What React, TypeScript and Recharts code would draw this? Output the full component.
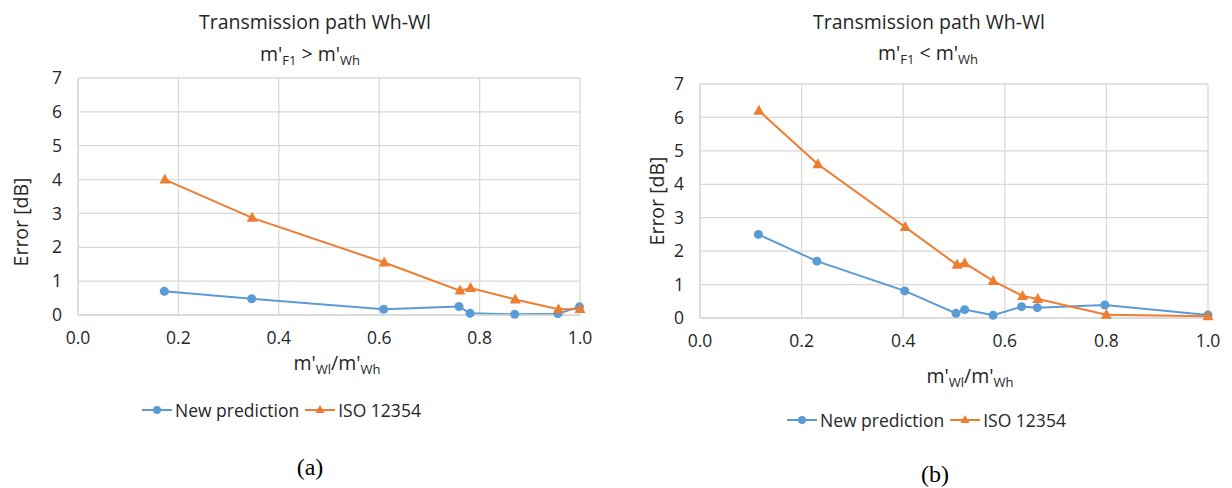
import React from "react";
import { CartesianGrid, Legend, Line, LineChart, XAxis, YAxis } from "recharts";

// panel (a): m'F1 > m'Wh
const A_NEW_X = [0.172, 0.346, 0.609, 0.759, 0.781, 0.87, 0.956, 0.999];
const A_NEW_Y = [0.7, 0.48, 0.17, 0.25, 0.05, 0.02, 0.04, 0.24];
const A_ISO_X = [0.173, 0.347, 0.61, 0.761, 0.782, 0.871, 0.957, 1.0];
const A_ISO_Y = [4.0, 2.87, 1.55, 0.72, 0.8, 0.46, 0.17, 0.18];

// panel (b): m'F1 < m'Wh
const B_NEW_X = [0.115, 0.23, 0.403, 0.504, 0.521, 0.577, 0.633, 0.664, 0.797, 1.0];
const B_NEW_Y = [2.5, 1.7, 0.81, 0.14, 0.25, 0.08, 0.34, 0.31, 0.39, 0.09];
const B_ISO_X = [0.116, 0.232, 0.404, 0.506, 0.521, 0.577, 0.635, 0.665, 0.8, 1.0];
const B_ISO_Y = [6.2, 4.6, 2.72, 1.59, 1.64, 1.11, 0.66, 0.57, 0.1, 0.05];

const SERIES = ["New prediction", "ISO 12354"];
const X_TICKS = [0, 0.2, 0.4, 0.6, 0.8, 1.0];
const Y_TICKS = [0, 1, 2, 3, 4, 5, 6, 7];

const BLUE = "#5B9BD5";
const ORANGE = "#ED7D31";
const GRID = "#D9D9D9";
const TEXT = "#262626";
const FONT = "'Open Sans', 'Noto Sans', sans-serif";

const toPoints = (xs: number[], ys: number[]) => xs.map((x, i) => ({ x, y: ys[i] }));

const Triangle = (props: any) => {
  const { cx, cy, index } = props;
  if (cx == null || cy == null) return <g key={index} />;
  return (
    <path
      key={index}
      d={`M${cx},${cy - 6} L${cx + 5.5},${cy + 4} L${cx - 5.5},${cy + 4} Z`}
      fill={ORANGE}
    />
  );
};

const LegendContent = ({ payload }: any) => {
  const items = [...(payload || [])].sort((a: any, b: any) => SERIES.indexOf(a.value) - SERIES.indexOf(b.value));
  return (
    <div style={{ display: "flex", alignItems: "center", height: 24, fontFamily: FONT, fontSize: 17.5, color: TEXT }}>
      {items.map((p: any) => (
        <span key={p.value} style={{ display: "flex", alignItems: "center", marginRight: 6 }}>
          <svg width={30} height={14} style={{ marginRight: 3 }}>
            <line x1={0} y1={7} x2={30} y2={7} stroke={p.color} strokeWidth={2} />
            {p.value === SERIES[0] ? (
              <circle cx={15} cy={7} r={4} fill={p.color} />
            ) : (
              <path d="M15,2 L19.5,10 L10.5,10 Z" fill={p.color} />
            )}
          </svg>
          {p.value}
        </span>
      ))}
    </div>
  );
};

const Sub = ({ children }: any) => (
  <tspan fontSize={13} dy={4}>
    {children}
  </tspan>
);

type PanelProps = {
  left: number;
  newData: { x: number; y: number }[];
  isoData: { x: number; y: number }[];
  yAxisWidth: number;
  margin: { top: number; right: number; bottom: number; left: number };
  legendTop: number;
  legendLeft: number;
  xLabel: { x: number; y: number };
  yLabel: { x: number; y: number };
};

const Panel = ({ left, newData, isoData, yAxisWidth, margin, legendTop, legendLeft, xLabel, yLabel }: PanelProps) => (
  <div style={{ position: "absolute", left, top: 0 }}>
    <LineChart width={616} height={488} margin={margin}>
      <CartesianGrid stroke={GRID} strokeWidth={1.3} />
      <XAxis
        type="number"
        dataKey="x"
        domain={[0, 1]}
        ticks={X_TICKS}
        tickFormatter={(v: number) => v.toFixed(1)}
        axisLine={{ stroke: GRID, strokeWidth: 1.3 }}
        tickLine={false}
        tickSize={0}
        tickMargin={17}
        height={60}
        tick={{ fill: TEXT, fontSize: 17.5, fontFamily: FONT }}
        label={{
          content: () => (
            <text x={xLabel.x} y={xLabel.y} textAnchor="middle" fill={TEXT} fontSize={19.5} fontFamily={FONT}>
              m'<Sub>Wl</Sub>
              <tspan dy={-4}>/m'</tspan>
              <Sub>Wh</Sub>
            </text>
          ),
        }}
      />
      <YAxis
        type="number"
        domain={[0, 7]}
        ticks={Y_TICKS}
        width={yAxisWidth}
        axisLine={{ stroke: GRID, strokeWidth: 1.3 }}
        tickLine={false}
        tickSize={0}
        tickMargin={16}
        tick={{ fill: TEXT, fontSize: 17.5, fontFamily: FONT }}
        label={{
          content: () => (
            <text
              x={yLabel.x}
              y={yLabel.y}
              textAnchor="middle"
              dominantBaseline="central"
              transform={`rotate(-90 ${yLabel.x} ${yLabel.y})`}
              fill={TEXT}
              fontSize={19.5}
              fontFamily={FONT}
            >
              Error [dB]
            </text>
          ),
        }}
      />
      <Legend
        verticalAlign="bottom"
        content={<LegendContent />}
        wrapperStyle={{ top: legendTop, left: legendLeft, width: 320, height: 24 }}
      />
      <Line
        data={newData}
        dataKey="y"
        name={SERIES[0]}
        stroke={BLUE}
        strokeWidth={2}
        dot={{ r: 4.5, fill: BLUE, stroke: "none" }}
        activeDot={false}
        isAnimationActive={false}
      />
      <Line
        data={isoData}
        dataKey="y"
        name={SERIES[1]}
        stroke={ORANGE}
        strokeWidth={2}
        dot={<Triangle />}
        activeDot={false}
        isAnimationActive={false}
      />
    </LineChart>
  </div>
);

const Titles = () => (
  <svg width={1232} height={488} style={{ position: "absolute", left: 0, top: 0, pointerEvents: "none" }}>
    <g fill={TEXT} fontFamily={FONT} fontSize={19.5} textAnchor="middle">
      <text x={315} y={29}>Transmission path Wh-Wl</text>
      <text x={310} y={61}>
        m'<Sub>F1</Sub>
        <tspan dy={-4}> &gt; m'</tspan>
        <Sub>Wh</Sub>
      </text>
      <text x={929} y={29}>Transmission path Wh-Wl</text>
      <text x={928} y={60}>
        m'<Sub>F1</Sub>
        <tspan dy={-4}> &lt; m'</tspan>
        <Sub>Wh</Sub>
      </text>
    </g>
    <g fill="#000" fontFamily="'Liberation Serif', 'Times New Roman', serif" fontSize={24} textAnchor="middle">
      <text x={310} y={475}>(a)</text>
      <text x={935} y={482}>(b)</text>
    </g>
  </svg>
);

export default function App() {
  return (
    <div style={{ position: "absolute", left: 0, top: 0, width: 1232, height: 488, background: "#fff", overflow: "hidden" }}>
      <Panel
        left={0}
        newData={toPoints(A_NEW_X, A_NEW_Y)}
        isoData={toPoints(A_ISO_X, A_ISO_Y)}
        yAxisWidth={78}
        margin={{ top: 78, right: 36, bottom: 89, left: 0 }}
        legendTop={398}
        legendLeft={142}
        xLabel={{ x: 337, y: 370 }}
        yLabel={{ x: 20, y: 222 }}
      />
      <Panel
        left={616}
        newData={toPoints(B_NEW_X, B_NEW_Y)}
        isoData={toPoints(B_ISO_X, B_ISO_Y)}
        yAxisWidth={84}
        margin={{ top: 84, right: 24, bottom: 86, left: 0 }}
        legendTop={408}
        legendLeft={171}
        xLabel={{ x: 354, y: 383 }}
        yLabel={{ x: 40, y: 201 }}
      />
      <Titles />
    </div>
  );
}
